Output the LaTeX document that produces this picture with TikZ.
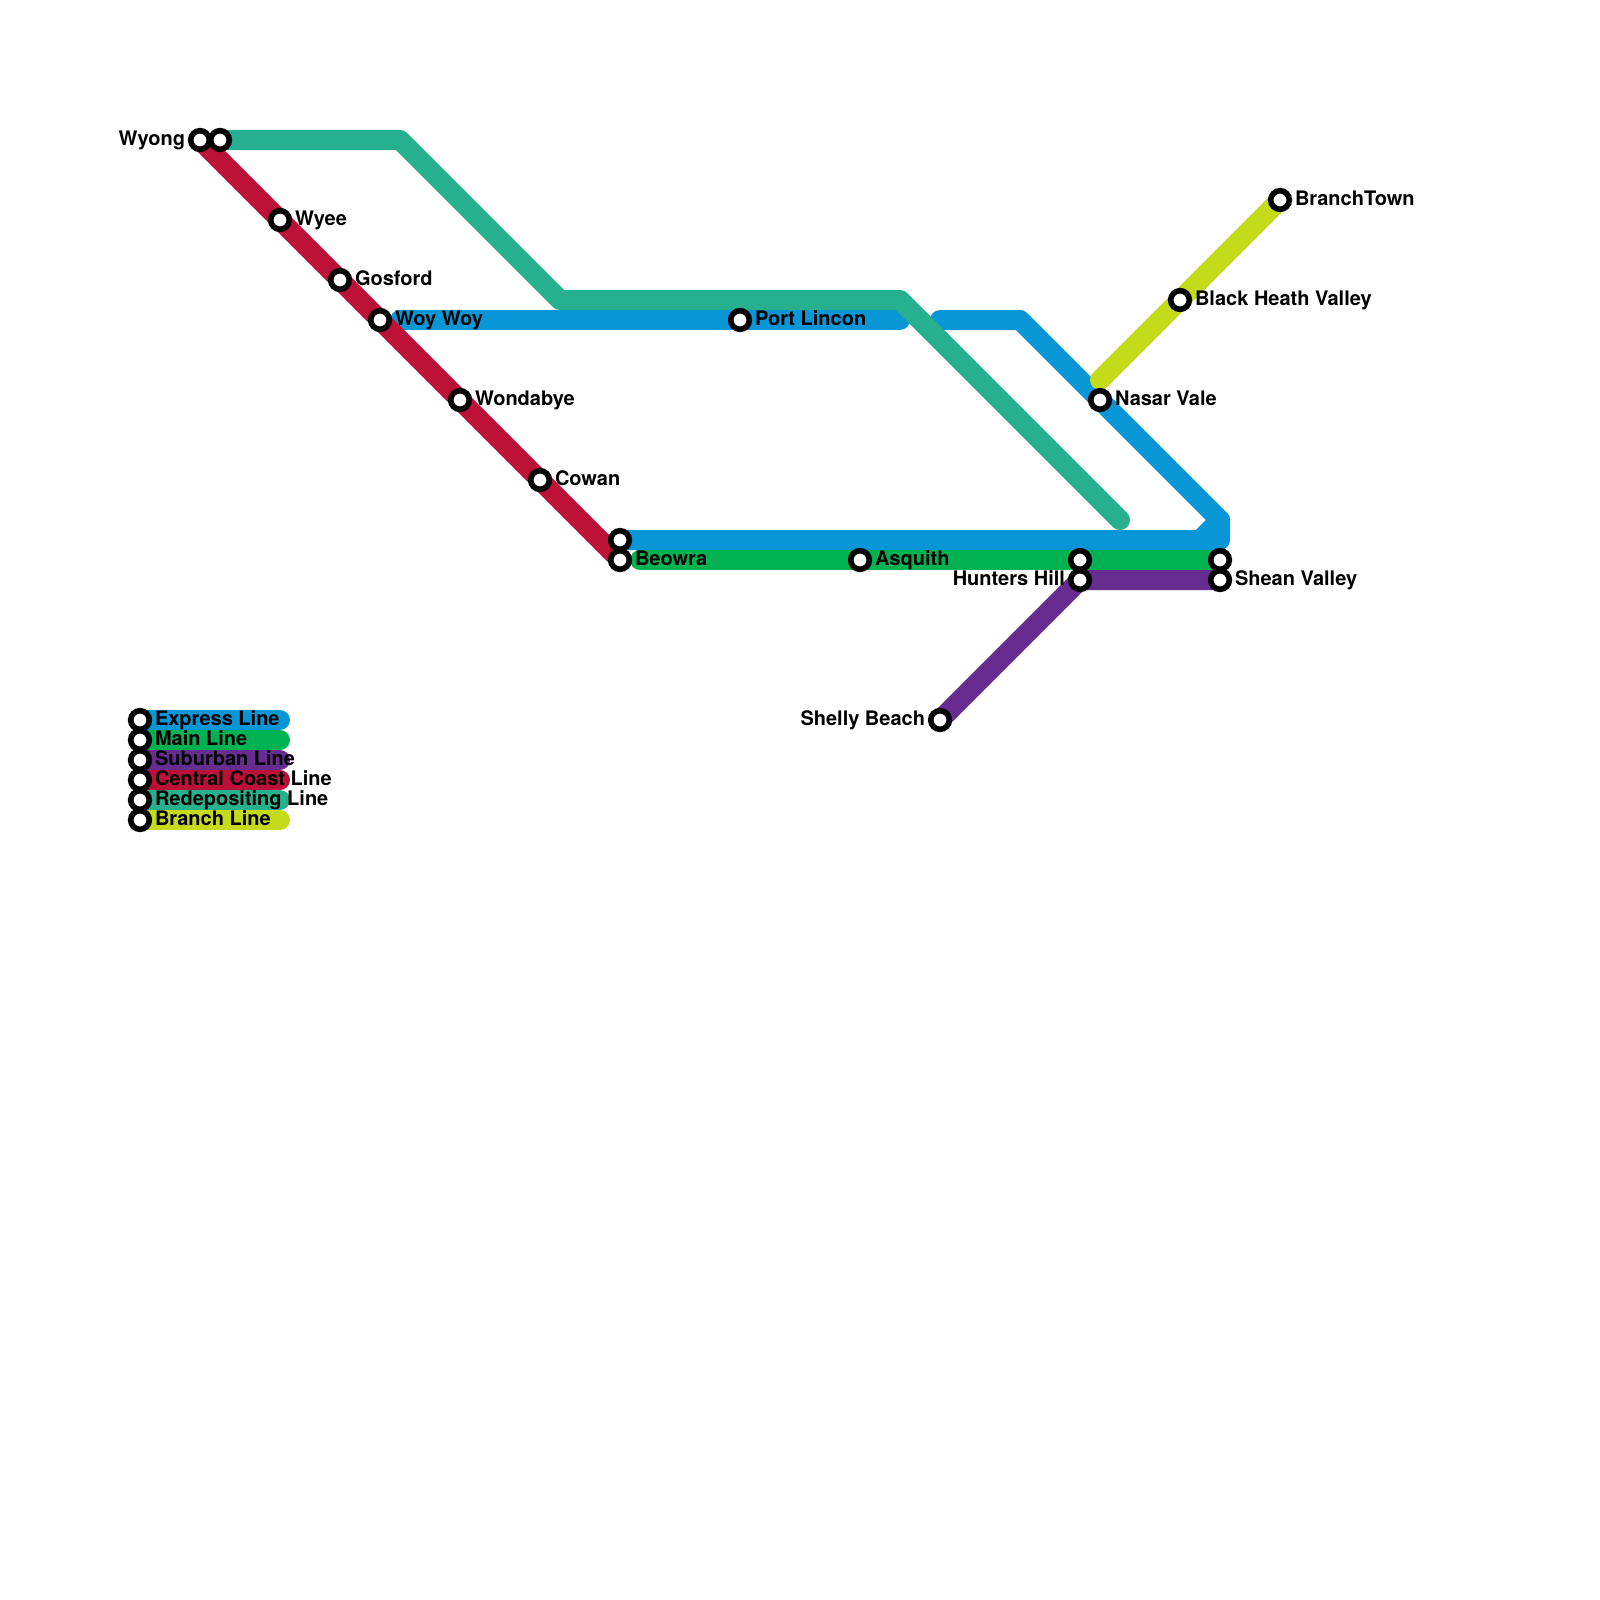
\documentclass[tikz,border=0pt]{standalone}
\usepackage{fontspec}
\setmainfont{TeX Gyre Heros}
\definecolor{cExpress}{HTML}{0896D7}
\definecolor{cMain}{HTML}{00B251}
\definecolor{cSuburban}{HTML}{662C90}
\definecolor{cCentral}{HTML}{BD1038}
\definecolor{cRedep}{HTML}{27B08E}
\definecolor{cBranch}{HTML}{C4DB1C}
\tikzset{
  metroline/.style={line width=20pt,line cap=round,line join=round},
  stn/.style={circle,draw=black,fill=white,line width=5.6pt,minimum size=18.6pt,inner sep=0pt,outer sep=0pt},
  lbl/.style={font=\fontsize{20}{24}\selectfont\bfseries,text=black,inner sep=0pt,outer sep=0pt},
  lblr/.style={lbl,anchor=base west},
  lbll/.style={lbl,anchor=base east},
}
\begin{document}
\begin{tikzpicture}[x=1pt,y=-1pt]
\useasboundingbox (0,0) rectangle (1600,1600);
\fill[white] (0,0) rectangle (1600,1600);
% line end points and bends
\coordinate (e1) at (400,320);
\coordinate (e2) at (900,320);
\coordinate (e3) at (940,320);
\coordinate (e4) at (1020,320);
\coordinate (e5) at (1220,520);
\coordinate (e6) at (1220,540);
\coordinate (e7) at (1200,540);
\coordinate (e8) at (620,540);
\coordinate (m1) at (640,560);
\coordinate (m2) at (1220,560);
\coordinate (s1) at (940,720);
\coordinate (s2) at (1080,580);
\coordinate (s3) at (1220,580);
\coordinate (c1) at (200,140);
\coordinate (c2) at (620,560);
\coordinate (r1) at (220,140);
\coordinate (r2) at (400,140);
\coordinate (r3) at (560,300);
\coordinate (r4) at (900,300);
\coordinate (r5) at (1120,520);
\coordinate (b1) at (1100,380);
\coordinate (b2) at (1280,200);
\foreach \n/\y in {a/720,b/740,c/760,d/780,f/800,g/820}{
  \coordinate (k\n) at (140,\y);
  \coordinate (l\n) at (280,\y);
}
% lines
\draw[metroline,cExpress] (e1) -- (e2);
\draw[metroline,cExpress] (e3) -- (e4) -- (e5) -- (e6) -- (e8);
\draw[metroline,cExpress] (e5) -- (e7);
\draw[metroline,cExpress] (ka) -- (la);
\draw[metroline,cMain] (m1) -- (m2);
\draw[metroline,cMain] (kb) -- (lb);
\draw[metroline,cSuburban] (s1) -- (s2) -- (s3);
\draw[metroline,cSuburban] (kc) -- (lc);
\draw[metroline,cCentral] (c1) -- (c2);
\draw[metroline,cCentral] (kd) -- (ld);
\draw[metroline,cRedep] (r1) -- (r2) -- (r3) -- (r4) -- (r5);
\draw[metroline,cRedep] (kf) -- (lf);
\draw[metroline,cBranch] (b1) -- (b2);
\draw[metroline,cBranch] (kg) -- (lg);
% stations
\foreach \n/\x/\y in {wyong/200/140,wyongb/220/140,wyee/280/220,gosford/340/280,woy/380/320,
  wonda/460/400,cowan/540/480,beoa/620/540,beob/620/560,port/740/320,asq/860/560,
  hilla/1080/560,hillb/1080/580,nasar/1100/400,heath/1180/300,town/1280/200,
  sheana/1220/560,sheanb/1220/580,shelly/940/720,
  lega/140/720,legb/140/740,legc/140/760,legd/140/780,lege/140/800,legf/140/820}{
  \node[stn] (\n) at (\x,\y) {};
}
% labels
\node[lbll] (twyong) at (185,146) {Wyong};
\node[lblr] (twyee) at (295,225) {Wyee};
\node[lblr] (tgos) at (355,285) {Gosford};
\node[lblr] (twoy) at (395,325) {Woy Woy};
\node[lblr] (twon) at (475,405) {Wondabye};
\node[lblr] (tcow) at (555,485) {Cowan};
\node[lblr] (tbeo) at (635,565) {Beowra};
\node[lblr] (tport) at (755,325) {Port Lincon};
\node[lblr] (tasq) at (875,565) {Asquith};
\node[lbll] (thill) at (1065,585) {Hunters Hill};
\node[lblr] (tnas) at (1115,405) {Nasar Vale};
\node[lblr] (thea) at (1195,305) {Black Heath Valley};
\node[lblr] (ttown) at (1295,205) {BranchTown};
\node[lblr] (tshe) at (1235,585) {Shean Valley};
\node[lbll] (tshy) at (925,725) {Shelly Beach};
\node[lblr] (tla) at (155,725) {Express Line};
\node[lblr] (tlb) at (155,745) {Main Line};
\node[lblr] (tlc) at (155,765) {Suburban Line};
\node[lblr] (tld) at (155,785) {Central Coast Line};
\node[lblr] (tle) at (155,805) {Redepositing Line};
\node[lblr] (tlf) at (155,825) {Branch Line};
\end{tikzpicture}
\end{document}
